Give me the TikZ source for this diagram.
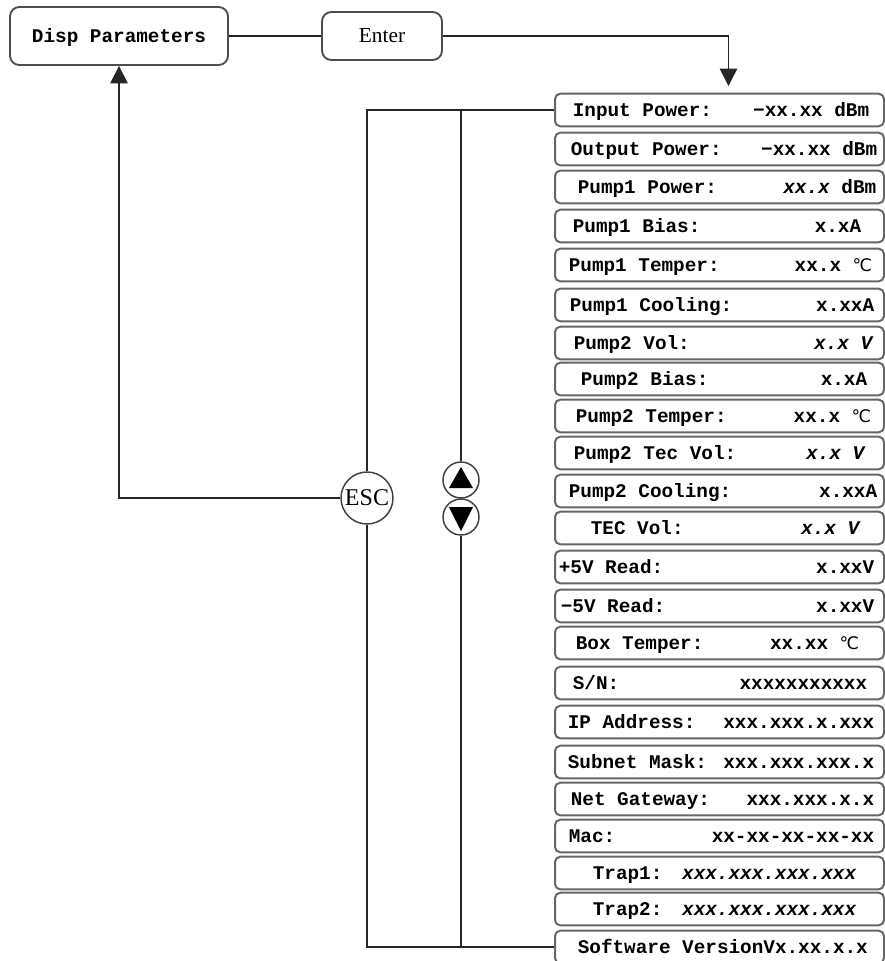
\documentclass[tikz,border=0pt]{standalone}
\usepackage{fontspec}
\setmainfont{Liberation Serif}
\newfontfamily\dispmono{Liberation Mono}
\newfontfamily\degfont{DejaVu Sans}
\usetikzlibrary{arrows.meta}
\newcommand{\degc}{{\degfont\mdseries\fontsize{13pt}{15pt}\selectfont ℃}}

\begin{document}
\begin{tikzpicture}[x=0.75pt,y=-0.75pt,line width=1.2pt,draw=black!85,
  menu/.style={draw=black!70,rounded corners=7pt,line width=1.4pt,inner sep=0pt},
  row/.style={draw=black!60,rounded corners=4pt,line width=1.5pt,inner sep=0pt,
    minimum width=246.75pt,minimum height=24.5pt},
  mono/.style={inner sep=0pt,text height=9.5pt,text depth=0pt,
    font=\dispmono\bfseries\fontsize{14.5pt}{16pt}\selectfont},
  lbl/.style={mono,anchor=west},
  val/.style={mono,anchor=east},
  key/.style={circle,draw=black!75,line width=1.1pt,inner sep=0pt},
  tip/.style={-{Triangle[length=13pt,width=13pt]}}]
\useasboundingbox (0,0) rectangle (885,961);

% menu keys
\node[menu,minimum width=163.5pt,minimum height=43.5pt,mono] (disp) at (119,36) {Disp Parameters};
\node[menu,minimum width=90pt,minimum height=36pt,font=\fontsize{16pt}{18pt}\selectfont] (enter) at (382,36) {Enter};
\node[key,minimum size=39pt,font=\fontsize{18pt}{20pt}\selectfont] (esc) at (367,498) {ESC};
\node[key,minimum size=27pt] (up) at (461,480) {};
\node[key,minimum size=27pt] (down) at (461,517) {};
\fill (461,467) -- (449,488) -- (473,488) -- cycle;
\fill (461,531) -- (449,507) -- (473,507) -- cycle;

% parameter list
\node[row] (r1) at (719.5,110) {};
\node[lbl] (l1) at (572,110) {Input Power:};
\node[val] (v1) at (870,110) {−xx.xx dBm};
\node[row] (r2) at (719.5,149) {};
\node[lbl] (l2) at (570,149) {Output Power:};
\node[val] (v2) at (878,149) {−xx.xx dBm};
\node[row] (r3) at (719.5,187) {};
\node[lbl] (l3) at (577,187) {Pump1 Power:};
\node[val] (v3) at (877,187) {\itshape xx.x \upshape dBm};
\node[row] (r4) at (719.5,226) {};
\node[lbl] (l4) at (572,226) {Pump1 Bias:};
\node[val] (v4) at (862,226) {x.xA};
\node[row] (r5) at (719.5,265) {};
\node[lbl] (l5) at (568,265) {Pump1 Temper:};
\node[val] (v5) at (873,265) {xx.x \degc};
\node[row] (r6) at (719.5,305) {};
\node[lbl] (l6) at (569,305) {Pump1 Cooling:};
\node[val] (v6) at (875,305) {x.xxA};
\node[row] (r7) at (719.5,343) {};
\node[lbl] (l7) at (573,343) {Pump2 Vol:};
\node[val] (v7) at (873,343) {\itshape x.x V};
\node[row] (r8) at (719.5,379) {};
\node[lbl] (l8) at (580,379) {Pump2 Bias:};
\node[val] (v8) at (868,379) {x.xA};
\node[row] (r9) at (719.5,416) {};
\node[lbl] (l9) at (575,416) {Pump2 Temper:};
\node[val] (v9) at (872,416) {xx.x \degc};
\node[row] (r10) at (719.5,453) {};
\node[lbl] (l10) at (573,453) {Pump2 Tec Vol:};
\node[val] (v10) at (865,453) {\itshape x.x V};
\node[row] (r11) at (719.5,491) {};
\node[lbl] (l11) at (568,491) {Pump2 Cooling:};
\node[val] (v11) at (878,491) {x.xxA};
\node[row] (r12) at (719.5,528) {};
\node[lbl] (l12) at (590,528) {TEC Vol:};
\node[val] (v12) at (860,528) {\itshape x.x V};
\node[row] (r13) at (719.5,567) {};
\node[lbl] (l13) at (558,567) {+5V Read:};
\node[val] (v13) at (875,567) {x.xxV};
\node[row] (r14) at (719.5,606) {};
\node[lbl] (l14) at (560,606) {−5V Read:};
\node[val] (v14) at (875,606) {x.xxV};
\node[row] (r15) at (719.5,643) {};
\node[lbl] (l15) at (575,643) {Box Temper:};
\node[val] (v15) at (860,643) {xx.xx \degc};
\node[row] (r16) at (719.5,683) {};
\node[lbl] (l16) at (572,683) {S/N:};
\node[val] (v16) at (868,683) {xxxxxxxxxxx};
\node[row] (r17) at (719.5,722) {};
\node[lbl] (l17) at (567,722) {IP Address:};
\node[val] (v17) at (875,722) {xxx.xxx.x.xxx};
\node[row] (r18) at (719.5,762) {};
\node[lbl] (l18) at (567,762) {Subnet Mask:};
\node[val] (v18) at (875,762) {xxx.xxx.xxx.x};
\node[row] (r19) at (719.5,799) {};
\node[lbl] (l19) at (570,799) {Net Gateway:};
\node[val] (v19) at (875,799) {xxx.xxx.x.x};
\node[row] (r20) at (719.5,836) {};
\node[lbl] (l20) at (568,836) {Mac:};
\node[val] (v20) at (875,836) {xx-xx-xx-xx-xx};
\node[row] (r21) at (719.5,873) {};
\node[lbl] (l21) at (592,873) {Trap1:};
\node[val] (v21) at (857,873) {\itshape xxx.xxx.xxx.xxx};
\node[row] (r22) at (719.5,909) {};
\node[lbl] (l22) at (592,909) {Trap2:};
\node[val] (v22) at (857,909) {\itshape xxx.xxx.xxx.xxx};
\node[row] (r23) at (719.5,947) {};
\node[lbl] (l23) at (577,947) {Software VersionVx.xx.x.x};

% connectors
\draw (disp) -- (enter);
\draw[tip,shorten >=5pt] (enter.east) -| ([shift={(9,0)}]r1.north);
\draw (r1.west) -| (esc.north);
\draw (up.north) -- (up.north |- r1.west);
\draw[tip] (esc.west) -| (disp.south);
\draw (esc.south) |- (r23.west);
\draw (down.south) -- (down.south |- r23.west);
\end{tikzpicture}
\end{document}
